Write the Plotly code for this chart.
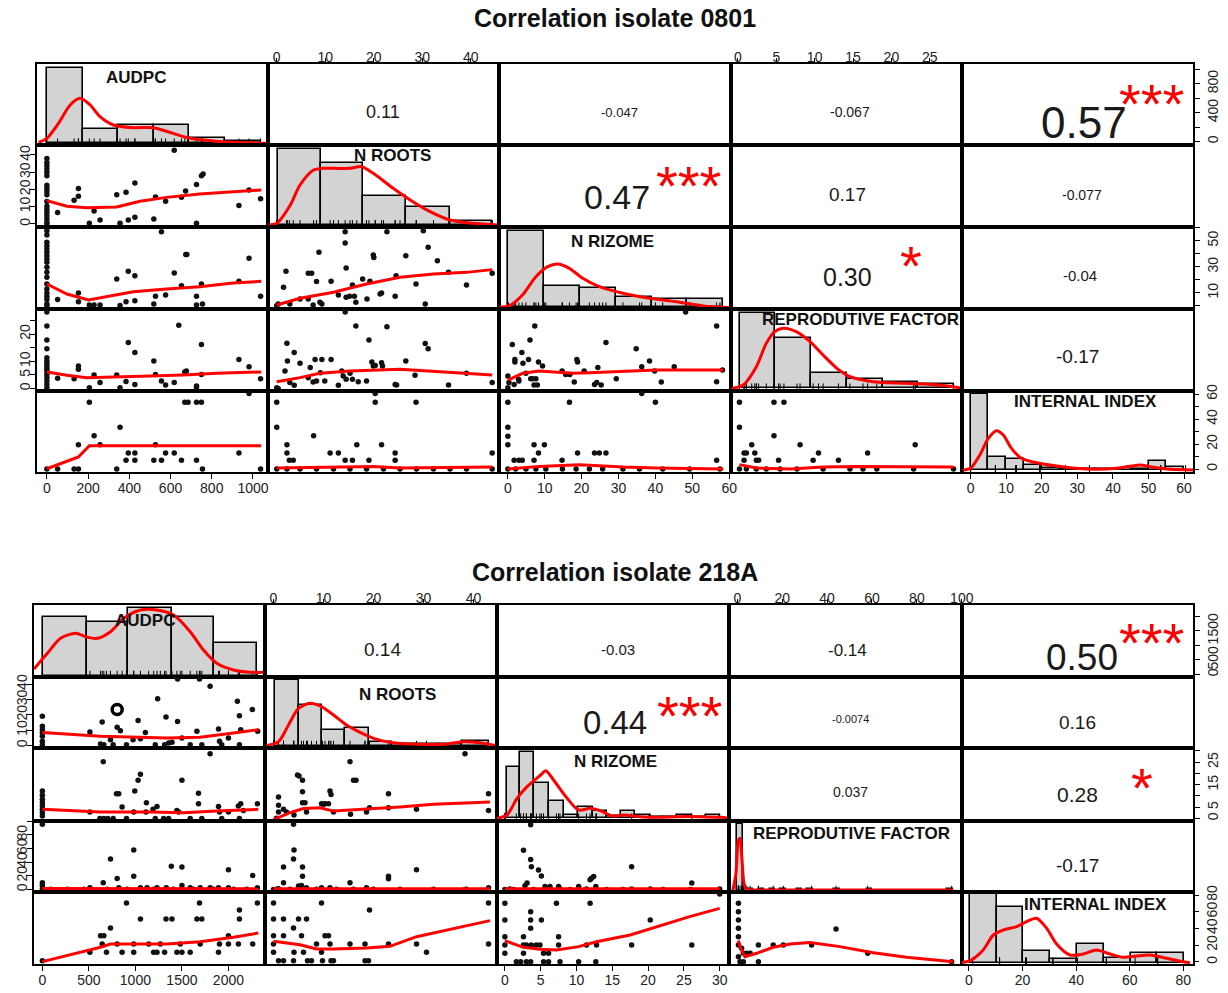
import plotly.graph_objects as go

W, H = 1228, 993
FONT = "Liberation Sans, Arial, sans-serif"

VARS = ["AUDPC", "N ROOTS", "N RIZOME", "REPRODUTIVE FACTOR", "INTERNAL INDEX"]
TITLE_A = "Correlation isolate 0801"
TITLE_B = "Correlation isolate 218A"

# ---------------- isolate 0801 (top) ----------------
A_RANGES = [(-48, 1073), (-1.8, 45.8), (-2.4, 60.5), (-0.9, 29.2), (-2.4, 62.5)]
A_TICKS = [[0, 200, 400, 600, 800, 1000], [0, 10, 20, 30, 40], [0, 10, 20, 30, 40, 50, 60],
           [0, 5, 10, 15, 20, 25], [0, 10, 20, 30, 40, 50, 60]]
A_YTEXT = [["0", "", "400", "", "800", ""], ["0", "10", "20", "30", "40"],
           ["", "10", "", "30", "", "50", ""], ["0", "5", "10", "", "20", ""],
           ["0", "", "20", "", "40", "", "60"]]

A_P21 = [(0,38),(0,35.6),(0,33.8),(0,31.9),(0,30),(0,28),(0,22.5),(0,20.6),(0,18.8),(0,16.9),(0,13),(0,10.3),
         (0,8.4),(0,6.6),(0,4.7),(0,2.8),(0,0.9),(0,0),(52,6.6),(132,13.7),(153,20.6),(153,16),(206,0.4),(229,7.5),
         (258,2.3),(339,16.9),(355,0.4),(384,18.4),(395,2.3),(427,23.8),(427,3.8),(519,2.8),(527,15.6),(576,13.1),
         (618,42.8),(653,15.4),(673,19.1),(726,22.9),(726,0.4),(750,28),(758,29),(932,10.7),(981,19.7),(1037,14.6)]
A_L21 = [(0,13.5),(97,10.3),(194,9.4),(339,9.8),(452,13.1),(581,15.4),(742,17.3),(903,18.8),(1040,19.7)]
A_P31 = [(0,57.7),(0,54.4),(0,48.8),(0,46.2),(0,43.6),(0,41.1),(0,38.5),(0,36),(0,33.4),(0,29.6),(0,25.7),(0,21.9),
         (0,16.8),(0,13),(0,9.9),(0,7.3),(0,4.8),(0,1.4),(0,0),(52,4.8),(153,9.9),(153,3.2),(206,0.7),(229,0.7),
         (258,0.7),(339,20.6),(355,0.2),(384,3.2),(395,26.5),(427,23.2),(427,4),(519,1.4),(527,7.3),(556,56.9),
         (576,8.3),(618,25.2),(653,15.5),(674,39.5),(679,39.5),(726,7.3),(726,0.7),(750,16.8),(755,1.4),(932,18.8),
         (981,36.5),(1037,7.3)]
A_L31 = [(0,16.8),(97,9.1),(202,4.5),(306,7.3),(419,10.9),(581,12.9),(742,14.7),(903,17.5),(1040,18.8)]
A_P41 = [(0,28.1),(0,23),(0,17.8),(0,14.6),(0,11.3),(0,10.1),(0,9.3),(0,8.3),(0,7.3),(0,6.4),(0,5.2),(0,4),(0,2.8),
         (0,1.5),(0,0.3),(52,3.8),(132,3.6),(153,8.3),(153,7.1),(206,0.3),(229,5),(258,2.2),(339,5),(355,0.3),
         (384,2.6),(395,16.9),(427,13.2),(427,1.5),(519,10.1),(527,5.2),(556,2.8),(576,1.3),(618,2.2),(640,23.2),
         (669,6.1),(677,6.4),(726,0.9),(726,0.3),(750,16.2),(750,5.2),(932,10.7),(981,8),(1037,3.6)]
A_L41 = [(0,6.1),(97,4.9),(194,4),(339,4.4),(500,4.6),(661,5),(823,5.6),(1040,6.1)]
A_P51 = [(0,0),(52,0),(132,0),(153,0),(153,19.5),(206,53.4),(229,26.7),(258,19.5),(339,0),(355,33.4),(384,7),
         (395,12.8),(427,12.8),(427,7),(519,7),(527,19.5),(556,7),(576,12.8),(618,12.8),(653,7),(669,53.4),
         (685,53.4),(726,7),(726,53.4),(750,53.4),(755,0),(932,12.8),(981,60.4),(1037,0)]
A_L51 = [(0,0.2),(153,9.6),(206,18.7),(1040,18.7)]
A_P32 = [(0,0),(0.3,1.4),(1.4,14.2),(1.9,26.5),(2.7,1.4),(4.8,5.3),(6.5,5.3),(6.5,25),(7.2,25),(7.5,0.7),(8.2,18.6),
         (8.7,41.1),(8.9,2.7),(9.3,1.4),(11.2,18.8),(12.7,8.3),(14.1,56.9),(14.1,48.2),(14.3,29),(14.3,6.6),(15,7.3),
         (15.6,16),(16,7.3),(16.3,2.7),(17.7,20.6),(18.6,5.3),(19.2,18.8),(19.9,39),(20,37.2),(21.3,9.1),(21.6,9.9),
         (22.7,56.9),(24.4,7.3),(24.6,23.2),(26.6,38.5),(28.7,16.8),(30.2,57.7),(30.6,1.4),(31.2,45),(33.1,34.7),
         (35.4,25.7),(39.1,16),(44.4,25)]
A_L32 = [(0,0.7),(4.8,5.8),(11.7,10.4),(18.5,16.8),(25.4,21.9),(32.3,24.5),(39.1,25.7),(44.4,27.8)]
A_P42 = [(0,0.3),(0.3,0),(1.7,6.4),(2.1,16.6),(2.2,10.1),(2.7,2.2),(3.6,13.2),(3.6,1.2),(4.8,9.3),(6.5,4),(6.9,7.7),
         (7.5,2.4),(7.9,10.7),(8.2,2.8),(9,5.8),(9.3,10.7),(9.9,2.8),(11.2,10.7),(12.7,1.2),(13.4,6.4),(13.7,4.6),
         (14.1,28.1),(14.3,3.4),(15.1,5.6),(15.6,3.4),(16.3,23),(16.8,2.5),(18.5,2.8),(19,17.8),(19.6,9.7),(19.9,8.3),
         (20.3,8.5),(21.6,9.5),(21.8,8.3),(22.7,22.7),(24.4,1.5),(24.7,1.3),(26.6,10.1),(28.5,4.9),(30.6,16.5),
         (31.2,14.6),(35.4,1.3),(39.1,5.6),(44.4,2.2)]
A_L42 = [(0,2.5),(4.8,4),(8.9,5.6),(15.1,6.4),(25.4,7.1),(32.3,6.4),(39.1,5.6),(44.4,5)]
A_P52 = [(0,53.4),(0,33.4),(0,0),(2.1,19.5),(2.1,12.8),(2.6,7),(3.4,7),(7.6,26.7),(11,12.8),(12.7,12.8),(14.1,7),
         (15.6,7),(16.5,19.5),(19,7),(20.3,60.4),(20.3,53.4),(21.6,19.5),(24.4,12.8),(24.4,7),(28.7,53.4),(44.4,12.8),
         (2.1,0),(4.8,0),(8.2,0),(11.7,0),(15.1,0),(18.5,0),(22,0),(25.4,0),(28.8,0),(32.3,0),(35.7,0),(39.1,0),(44.4,0)]
A_L52 = [(0,0.8),(11.7,1.6),(20,2.1),(25.4,0.8),(44.4,1.6)]
A_P43 = [(0,0.3),(0,4.6),(0.3,2.2),(1.2,16.2),(1.7,1.5),(1.9,10.7),(1.9,9.7),(2.9,3.4),(3,2.8),(3.8,13.2),(4.1,9.3),
         (4.9,5.6),(5.6,10.7),(6,17.8),(6.2,3.6),(6.7,3.6),(7.1,1.3),(7.3,23),(7.6,3.6),(8,1.3),(8.3,9.7),(9.4,8.3),
         (14.7,6.4),(15.7,5.2),(16.8,5.2),(18,2.4),(18.7,10.7),(18.9,9.7),(20.7,6.4),(23.5,1.5),(24.1,2.2),(24.4,7.7),
         (25.3,1.3),(26.6,16.9),(29.4,3.6),(34.8,14.6),(36.3,8),(38.4,10.1),(39.8,6.4),(41.6,2.4),(45.1,8),(48.2,28.1),
         (56.6,23),(56.6,2.5),(58.2,6.8)]
A_L43 = [(0,3.1),(4,5.6),(8.5,6.4),(17.6,5.6),(22.1,5.8),(31.2,6.4),(40.3,6.8),(58.4,6.8)]
A_P53 = [(0,53.4),(0,33.4),(0,26.2),(0,19.5),(1.7,7),(3,7),(3.9,7),(7.1,19.5),(7.1,7),(8.3,12.8),(9.9,19.5),(14.7,7),
         (16.7,53.4),(18.9,12.8),(23.5,12.8),(24.8,12.8),(26.6,12.8),(36.3,60.4),(40,53.4),(56.6,7),
         (0,0),(2.1,0),(4.9,0),(7.6,0),(10.3,0),(14.8,0),(18.5,0),(22.1,0),(25.7,0),(31.2,0),(35.7,0),(42,0),(49.3,0),(57.5,0)]
A_L53 = [(0,0),(8.5,2.1),(19.4,3.5),(31.2,1.6),(40.3,0.8),(58.4,0)]
A_P54 = [(0.2,53.4),(0.2,33.4),(0.8,12.8),(1.1,12.8),(0.8,7),(1.8,19.5),(2.2,12.8),(2.4,7),(2.7,7),(4.7,53.4),
         (4.7,26.7),(5.3,7),(6,53.4),(8.1,19.5),(9.8,7),(10.5,12.8),(13.1,7),(16.9,12.8),(23.1,19.5),
         (0.2,0),(1.1,0),(2.4,0),(3.7,0),(5.5,0),(7.7,0),(11.1,0),(14.6,0),(16.3,0),(18.1,0),(22.9,0),(28.1,0)]
A_L54 = [(0.2,3.5),(2.4,0.8),(6.8,0),(11.1,1.6),(15.5,2.1),(19.8,2.1),(28.1,1.6)]

# histograms (left, right, height) and density curves (x, height)
A_H1 = [(0,174,227),(174,347,43),(347,518,55),(518,692,55),(692,865,15),(865,1037,7)]
A_D1 = [(-40,3),(0,15),(56,60),(113,115),(161,135),(210,115),(258,80),(323,55),(419,47),(516,47),(613,30),
        (694,15),(806,7),(903,3),(1065,0)]
A_H2 = [(0.3,9.1,227),(9.1,17.7,185),(17.7,26.6,87),(26.6,35.6,53),(35.6,44.4,13)]
A_D2 = [(-1.7,0),(0,5),(2.8,60),(4.8,120),(7.6,165),(9.6,170),(11.7,170),(15.1,170),(17.5,175),(19.9,155),(24,110),
        (27.5,75),(31.6,40),(35.7,15),(40.5,5),(46,0)]
A_H3 = [(0,9.8,229),(9.8,19.6,65),(19.6,29.4,59),(29.4,39.1,32),(39.1,48.7,25),(48.7,58.2,25)]
A_D3 = [(-2.4,0),(0.3,4),(3.95,37),(7.6,92),(10.8,122),(13.5,130),(16.7,117),(20.3,87),(24.8,62),(31.2,42),
        (38.4,27),(45.7,17),(53,4),(58.4,0),(61.1,0)]
A_H4 = [(0.27,4.83,225),(4.83,9.5,150),(9.5,14.2,47),(14.2,18.9,28),(18.9,23.5,18),(23.5,28.1,12)]
A_D4 = [(-0.8,0),(0.7,10),(2.4,65),(3.7,135),(4.8,170),(5.9,180),(7.6,170),(9.4,140),(11.1,100),(12.9,60),
        (14.6,35),(17.6,20),(22,15),(26.3,10),(29.2,0)]
A_H5 = [(0,5,228),(5,10,40),(10,15,33),(15,20,15),(20,25,6),(25,30,3),(30,35,3),(35,40,2),(40,45,0),(45,50,2),
        (50,55,28),(55,60,8)]
A_D5 = [(-2.1,0),(0,5),(2.6,45),(5,95),(7.3,118),(9.2,105),(11.5,65),(14.3,35),(18.6,22),(24.2,12),(29.8,5),
        (35.4,2),(41.1,5),(45.3,12),(47.6,15),(51.4,8),(56.1,2),(63.1,0)]

A_CORR_CELLS = [(0,1),(0,2),(0,3),(0,4),(1,2),(1,3),(1,4),(2,3),(2,4),(3,4)]
A_CORR_TEXT = ["0.11", "-0.047", "-0.067", "0.57", "0.47", "0.17", "-0.077", "0.30", "-0.04", "-0.17"]
A_STAR_CELLS = [(0,4),(1,2),(2,3)]
A_STAR_TEXT = ["***", "***", "*"]

# ---------------- isolate 218A (bottom) ----------------
B_RANGES = [(-90, 2393), (-1.7, 44.7), (-1.1, 31.3), (-3.7, 100.1), (-2.6, 83.6)]
B_TICKS = [[0, 500, 1000, 1500, 2000], [0, 10, 20, 30, 40], [0, 5, 10, 15, 20, 25, 30],
           [0, 20, 40, 60, 80, 100], [0, 20, 40, 60, 80]]
B_YTEXT = [["0", "500", "", "1500", ""], ["0", "10", "20", "30", "40"],
           ["0", "5", "", "15", "", "25", ""], ["0", "20", "40", "60", "80", ""],
           ["0", "20", "40", "60", "80"]]

B_P21 = [(0,19),(0,12.5),(0,10.3),(0,8.1),(0,5.9),(0,2.7),(0,0.5),(511,8.8),(625,0.9),(643,15.3),(661,0.5),(732,3.7),
         (761,0.5),(804,11.8),(839,9.6),(904,0.5),(975,3.7),(1029,16.2),(1054,4.4),(1107,8.5),(1214,0.5),(1239,30.5),
         (1314,0.5),(1329,18.6),(1357,1.6),(1393,2),(1453,43.4),(1453,15.7),(1500,4.8),(1589,0.5),(1661,9.2),
         (1689,43.4),(1714,0.5),(1803,38.6),(1893,10.7),(1904,2.7),(1928,0.5),(2000,4.8),(2096,28.8),(2118,19.4),
         (2118,0.5),(2132,10.3),(2257,23.4),(2314,9.2)]
B_P21_RING = [(804,23.4)]
B_L21 = [(0,8.5),(625,5.9),(1339,4.8),(1696,5.3),(2054,8.1),(2321,10.3)]
B_P31 = [(0,12.2),(0,10.3),(0,8.5),(0,7),(0,5.6),(0,4.1),(0,2.6),(0,1.1),(511,2.9),(618,0),(654,25.2),(661,0),(704,0),
         (761,0),(796,11),(821,11),(857,5.1),(904,0),(982,2.9),(993,12.2),(1029,17),(1054,19.6),(1114,2.9),(1118,7),
         (1189,4.1),(1214,0),(1232,5.3),(1303,0),(1357,0),(1446,3.6),(1464,2.9),(1500,17),(1589,0),(1678,11.2),
         (1678,6.6),(1714,0),(1803,28.8),(1893,5.3),(1904,2.9),(1928,0),(2000,2.9),(2107,5.6),(2118,0),(2132,6.6),
         (2161,3.6),(2311,6.6)]
B_L31 = [(0,4.1),(625,2.9),(1161,2.9),(1518,2.6),(1875,3.3),(2321,4.1)]
B_P41 = [(0,95.3),(0,9.8),(0,5.9),(0,1.1),(511,2.5),(654,9.8),(732,44.4),(804,16),(821,2.5),(982,19.4),(982,57.8),
         (1054,2.5),(1125,2.5),(1232,2.5),(1332,2.5),(1386,33.8),(1500,32.8),(1500,5.9),(1589,2.5),(1696,2.5),
         (1803,2.5),(1893,2.5),(2000,29),(2000,2.5),(2261,20.3),(2311,2.5),(89,0.5),(268,0.5),(446,0.5),(696,0.5),
         (911,0.5),(1196,0.5),(1411,0.5),(1625,0.5),(1839,0.5),(2054,0.5),(2196,0.5)]
B_L41 = [(0,1.5),(1000,0.9),(2321,1.1)]
B_P51 = [(0,1.4),(511,11.4),(625,31.3),(661,31.3),(643,21.3),(689,11.4),(732,40.5),(804,21.3),(857,11.4),(904,70.4),
         (982,11.4),(982,21.3),(1054,51.3),(1143,21.3),(1196,11.4),(1232,11.4),(1268,21.3),(1314,11.4),(1329,51.3),
         (1393,51.3),(1446,11.4),(1482,21.3),(1500,11.4),(1589,11.4),(1661,51.3),(1689,70.4),(1696,21.3),(1714,51.3),
         (1893,11.4),(1904,21.3),(2000,31.3),(2000,21.3),(2107,21.3),(2118,62),(2118,51.3),(2261,21.3),(2311,70.4)]
B_L51 = [(0,0.2),(625,17.4),(732,21.3),(1339,21.3),(1696,24.1),(2054,29.3),(2321,34.5)]
B_P32 = [(0.6,0.1),(1,9.6),(1,5.9),(1,2.9),(2,4.1),(2.6,2.9),(4.1,1.6),(4.8,19.3),(5.1,18.9),(5.8,17),(5.8,11.9),
         (5.8,7),(6.3,7),(6.6,2.9),(9.6,6.6),(10,6.3),(10.3,6.6),(11,6.6),(11.3,12.2),(11.5,10.7),(12,2.9),(15.3,25.2),
         (15.4,1.9),(16,17),(16.5,17),(18.6,2.9),(19.2,4.8),(23,11),(23,4.8),(28.6,4.1),(38.3,28.8),(43,11),(43,3.6)]
B_L32 = [(0,-0.5),(3.3,2.6),(6,4.4),(9.3,4.8),(12,3.3),(18.6,4.1),(25.3,5.1),(32,6.3),(43.3,7.3)]
B_P42 = [(0,0.1),(1,1.1),(2,32.8),(2,9.8),(4,95.3),(4.1,57.8),(4,44.4),(5.8,32.8),(5.8,19.4),(5,4.9),(5.6,5.9),
         (6.6,2.5),(9.6,2.5),(11.3,2.5),(15.3,9.8),(18.6,2.5),(23,19.4),(23,15.6),(28.6,29),(38.3,0.1),(43,2.5),
         (0.6,0.5),(3.3,0.5),(8.6,0.5),(12.6,0.5),(16,0.5),(20,0.5),(25.3,0.5),(32,0.5),(38.6,0.5)]
B_L42 = [(0,1.1),(43.3,1.1)]
B_P52 = [(0,70.4),(0,51.3),(0,31.3),(0,21.3),(0,11.4),(1,1.4),(2,51.3),(2,31.3),(2,1.4),(4,40.5),(4.1,11.4),(5,51.3),
         (5.6,31.3),(6,11.4),(6.6,51.3),(6.8,1.4),(7.6,1.4),(8.6,21.3),(9.6,70.4),(9.6,11.4),(9.8,1.4),(10.3,31.3),
         (11,31.3),(11.3,21.3),(11.5,1.4),(12,1.4),(15.3,21.3),(18.3,1.4),(19,1.4),(18.3,21.3),(19.2,62),(23,21.3),
         (28.6,21.3),(30.6,11.4),(43,70.4),(43,21.3),(4,1.4)]
B_L52 = [(0,24.5),(5.3,20.5),(8.6,15.4),(12,15.4),(18.6,16.6),(23.3,18.6),(28.6,30.1),(43.3,49.3)]
B_P43 = [(0,0),(0.7,0.6),(2.6,57.3),(2.8,5.4),(3.1,9.3),(3.6,43.9),(3.6,94.8),(3.7,33.3),(4.7,28.5),(5.1,19.8),
         (5.6,4.5),(6.3,4.5),(7.5,4.5),(7.7,0.6),(10.3,4.5),(11.9,14.1),(12.1,16.5),(12.4,18.9),(12.7,4.5),(17.7,33.3),
         (17.7,0.6),(20.3,0.6),(26.1,9.3),(30,0.6),(1.2,0),(4,0),(6.1,0.6),(9.1,0),(11.4,0.6),(14.2,0),(16.5,0),
         (22.1,0),(25.9,0)]
B_L43 = [(0,1.2),(30,1.2)]
B_P53 = [(0,70),(0,50.1),(0,30.1),(0,20.1),(0,10.2),(2.6,30.1),(2.6,20.1),(2.6,10.2),(3,20.1),(3.6,60.1),(3.6,50.1),
         (3.6,40.1),(3.7,20.1),(4.4,20.1),(4.9,20.1),(5.1,50.1),(5.4,10.2),(6.1,10.2),(7.2,70),(7.5,30.1),(7.5,20.1),
         (11.9,70),(11.4,20.1),(12.8,20.1),(17.7,20.1),(20.3,50.1),(26.1,20.1),(30,81.2),(1.6,0.2),(2.2,0.2),(3,0.2),
         (3.6,0.2),(5.4,0.2),(6.1,0.2),(7.7,0.2),(10.3,0.2),(12.7,0.2)]
B_L53 = [(0,25.3),(2.6,17.4),(4.9,15),(7.2,14.2),(10.3,18.2),(12.8,24.1),(17.5,32.1),(21.2,42.1),(25.8,54.1),(30,64)]
B_P54 = [(0.5,70),(0.5,60.1),(0.5,50.1),(0.5,40.1),(0.5,30.1),(0.5,20.1),(0.5,6.2),(1.9,16.2),(2.7,10.2),(4.2,10.2),
         (5.7,10.2),(9.4,20.1),(9.4,0.2),(16,20.1),(20.5,20.1),(33.1,20.1),(44,39.3),(58.1,10.2),(95.5,0.2),(1.2,0.2),
         (2.7,0.2)]
B_L54 = [(0.5,25.3),(1.5,16.2),(3.4,6.2),(8.6,10.2),(16,17.4),(23.5,21.3),(32.4,23),(45.7,18.2),(60.6,10.9),
         (75.4,5.4),(96.2,0.2)]

B_H1 = [(11,475,177),(475,921,160),(921,1393,204),(1393,1850,177),(1850,2311,97)]
B_D1 = [(-89,20),(54,67),(196,112),(357,127),(464,117),(589,112),(732,132),(875,172),(1054,197),(1232,197),
        (1411,182),(1589,132),(1732,77),(1875,37),(2054,17),(2232,10),(2411,10)]
B_H2 = [(0.3,5,197),(5,9.6,122),(9.6,14.3,47),(14.3,19,54),(19,23.6,12),(23.6,28.3,5),(28.3,33,5),(33,37.6,5),
        (37.6,43.1,15)]
B_D2 = [(-1.4,0),(1,12),(3,62),(5,112),(7.3,127),(9.6,117),(12,92),(14.6,62),(17.3,40),(20,22),(24,9),(29.3,4),
        (34,4),(38,12),(41.3,9),(44.6,0)]
B_H3 = [(0.25,2.1,155),(2.1,4.07,198),(4.07,6.2,107),(6.2,8.26,53),(8.26,10.26,10),(10.26,12.26,33),(12.26,14.2,23),
        (14.2,16.2,7),(16.2,18.2,21),(18.2,20.2,11),(20.2,22.1,3),(22.1,24.1,3),(24.1,26.1,11),(26.1,28.1,3),
        (28.1,30.05,11)]
B_D3 = [(-1.1,0),(0.3,10),(1.7,60),(3.1,95),(5,130),(5.7,143),(6.8,115),(8.7,60),(10.3,25),(11.9,30),(13.3,23),
        (15,7),(16.6,10),(18.9,5),(21.3,3),(24.1,5),(26.9,5),(30.1,3),(31.5,0)]
B_H4 = [(0,2.4,200),(2.4,4.8,6),(4.8,7.2,5),(9.6,12,5),(14.4,16.8,5),(19.2,21.6,5),(26.4,28.8,5),(31.2,33.6,5),
        (43.2,45.6,5),(57.6,60,5),(93.6,96,5)]
B_D4 = [(-2,0),(-0.6,52),(0.5,152),(1.2,157),(2,102),(3,22),(4.2,4),(8.6,2),(23.5,2),(38.3,2),(96.2,2)]
B_H5 = [(0.4,10.3,205),(10.3,20.3,166),(20.3,30.2,36),(30.2,40.2,11),(40.2,50.4,55),(50.4,60.3,13),(60.3,70.3,30),
        (70.3,80.3,30)]
B_D5 = [(-2.7,0),(0.4,6),(5.3,38),(9.1,83),(12.8,98),(17.8,108),(21.5,123),(25.2,133),(29,103),(32.7,56),(37.7,23),
        (42.7,26),(47.6,38),(52.6,26),(57.6,16),(62.6,20),(67.5,23),(73.8,13),(80,3),(82.5,0)]

B_CORR_CELLS = [(0,1),(0,2),(0,3),(0,4),(1,2),(1,3),(1,4),(2,3),(2,4),(3,4)]
B_CORR_TEXT = ["0.14", "-0.03", "-0.14", "0.50", "0.44", "-0.0074", "0.16", "0.037", "0.28", "-0.17"]
B_STAR_CELLS = [(0,4),(1,2),(2,4)]
B_STAR_TEXT = ["***", "***", "*"]

# ---------------- layout geometry / styling (pixels, cell fractions) ----------------
A_COLS = [37, 268, 499, 731, 962, 1193]
A_ROWS = [64, 145, 227, 309, 391, 472]
B_COLS = [34, 265, 497, 729, 962, 1193]
B_ROWS = [605, 677, 748, 821, 892, 964]
A_HRANGE = [(-5, 238), (-6, 240), (-5, 241), (-8, 238), (-6, 237)]
B_HRANGE = [(-4, 212), (-7, 206), (-8, 211), (-4, 209), (-4, 212)]
# (fx, fy, font size) for correlation numbers
A_CORR_STYLE = [(0.496,0.58,18),(0.52,0.59,13),(0.515,0.59,14),(0.53,0.70,44),(0.51,0.62,34),
                (0.505,0.60,19),(0.52,0.60,14),(0.506,0.60,25),(0.51,0.585,15),(0.50,0.57,19)]
B_CORR_STYLE = [(0.506,0.61,19),(0.52,0.61,15),(0.51,0.62,17),(0.52,0.71,37),(0.51,0.62,33),
                (0.52,0.58,11),(0.50,0.63,19),(0.52,0.60,14),(0.50,0.62,21),(0.50,0.61,19)]
A_STAR_STYLE = [(0.82,0.41,56),(0.815,0.415,56),(0.78,0.40,56)]
B_STAR_STYLE = [(0.82,0.44,56),(0.83,0.46,56),(0.78,0.46,56)]
A_LABEL_POS = [(0.43,0.17),(0.54,0.13),(0.49,0.18),(0.56,0.13),(0.535,0.13)]
B_LABEL_POS = [(0.48,0.21),(0.57,0.24),(0.51,0.185),(0.525,0.175),(0.58,0.18)]
A_TITLE_Y = 18
B_TITLE_Y = 572

A = dict(cols=A_COLS, rows=A_ROWS, ranges=A_RANGES, ticks=A_TICKS, ytext=A_YTEXT, hrange=A_HRANGE,
         pts={(1,0):A_P21,(2,0):A_P31,(3,0):A_P41,(4,0):A_P51,(2,1):A_P32,(3,1):A_P42,(4,1):A_P52,
              (3,2):A_P43,(4,2):A_P53,(4,3):A_P54},
         lo={(1,0):A_L21,(2,0):A_L31,(3,0):A_L41,(4,0):A_L51,(2,1):A_L32,(3,1):A_L42,(4,1):A_L52,
             (3,2):A_L43,(4,2):A_L53,(4,3):A_L54},
         hist=[A_H1,A_H2,A_H3,A_H4,A_H5], dens=[A_D1,A_D2,A_D3,A_D4,A_D5],
         corr=list(zip(A_CORR_CELLS, A_CORR_TEXT, A_CORR_STYLE)),
         stars=list(zip(A_STAR_CELLS, A_STAR_TEXT, A_STAR_STYLE)),
         labels=A_LABEL_POS, title=TITLE_A, title_y=A_TITLE_Y, ring=None)
B = dict(cols=B_COLS, rows=B_ROWS, ranges=B_RANGES, ticks=B_TICKS, ytext=B_YTEXT, hrange=B_HRANGE,
         pts={(1,0):B_P21,(2,0):B_P31,(3,0):B_P41,(4,0):B_P51,(2,1):B_P32,(3,1):B_P42,(4,1):B_P52,
              (3,2):B_P43,(4,2):B_P53,(4,3):B_P54},
         lo={(1,0):B_L21,(2,0):B_L31,(3,0):B_L41,(4,0):B_L51,(2,1):B_L32,(3,1):B_L42,(4,1):B_L52,
             (3,2):B_L43,(4,2):B_L53,(4,3):B_L54},
         hist=[B_H1,B_H2,B_H3,B_H4,B_H5], dens=[B_D1,B_D2,B_D3,B_D4,B_D5],
         corr=list(zip(B_CORR_CELLS, B_CORR_TEXT, B_CORR_STYLE)),
         stars=list(zip(B_STAR_CELLS, B_STAR_TEXT, B_STAR_STYLE)),
         labels=B_LABEL_POS, title=TITLE_B, title_y=B_TITLE_Y, ring=((1,0), B_P21_RING))

RED = "#ff0000"
BASE_AX = dict(showgrid=False, zeroline=False, showline=True, linecolor="black", linewidth=1.7,
               mirror=True, ticks="", showticklabels=False, fixedrange=True, automargin=False)
TICK_STYLE = dict(ticks="outside", ticklen=5, tickwidth=1.3, tickcolor="black", showticklabels=True,
                  tickfont=dict(size=14, color="#222", family=FONT))

fig = go.Figure()
layout = {}
anns = []
state = {"k": 0, "ov": 100}


def xp(px):
    return px / W


def yp(py):
    return 1 - py / H


def rug_values(M, v):
    # observation values of variable v, taken from the scatter panels of that variable
    if v < 4:
        return [a for a, b in M["pts"][(4, v)]]
    return [b for a, b in M["pts"][(4, 0)]]


def build(M):
    cols, rows, R = M["cols"], M["rows"], M["ranges"]
    for i in range(5):
        for j in range(5):
            state["k"] += 1
            k = state["k"]
            xn = "x" if k == 1 else f"x{k}"
            yn = "y" if k == 1 else f"y{k}"
            xa = dict(BASE_AX, domain=[xp(cols[j]), xp(cols[j + 1])], range=list(R[j]), anchor=yn)
            yrange = list(M["hrange"][i]) if i == j else list(R[i])
            ya = dict(BASE_AX, domain=[yp(rows[i + 1]), yp(rows[i])], range=yrange, anchor=xn)
            tv = M["ticks"][j]
            if i == 4 and j % 2 == 0:
                xa.update(TICK_STYLE, side="bottom", tickvals=tv, ticktext=[str(v) for v in tv],
                          ticklabelstandoff=-3)
            if i == 0 and j % 2 == 1:
                xa.update(TICK_STYLE, side="top", tickvals=tv, ticktext=[str(v) for v in tv],
                          ticklen=4, ticklabelstandoff=-9)
            ytv = M["ticks"][i]
            if j == 0 and i % 2 == 1:
                ya.update(TICK_STYLE, side="left", tickvals=ytv, ticktext=M["ytext"][i], tickangle=-90,
                          ticklabelstandoff=-5)
            if j == 4 and i % 2 == 0 and i != 4:
                ya.update(TICK_STYLE, side="right", tickvals=ytv, ticktext=M["ytext"][i], tickangle=-90,
                          ticklabelstandoff=1)
            layout["xaxis" if k == 1 else f"xaxis{k}"] = xa
            layout["yaxis" if k == 1 else f"yaxis{k}"] = ya
            # empty trace so that every panel (also text-only panels) gets its frame drawn
            fig.add_trace(go.Scatter(x=[None], y=[None], xaxis=xn, yaxis=yn, mode="markers",
                                     showlegend=False, hoverinfo="skip"))
            if i == 4 and j == 4:
                state["ov"] += 1
                ov = state["ov"]
                layout[f"yaxis{ov}"] = dict(TICK_STYLE, overlaying=yn, anchor=xn, side="right",
                                            range=list(R[4]), showgrid=False, zeroline=False,
                                            showline=False, fixedrange=True, automargin=False,
                                            tickvals=ytv, ticktext=M["ytext"][4], tickangle=-90,
                                            ticklabelstandoff=1)
                fig.add_trace(go.Scatter(x=[None], y=[None], xaxis=xn, yaxis=f"y{ov}", mode="markers",
                                         showlegend=False, hoverinfo="skip"))
            if i > j:
                p = M["pts"][(i, j)]
                fig.add_trace(go.Scatter(x=[a for a, b in p], y=[b for a, b in p], mode="markers",
                                         marker=dict(size=5.5, color="#111"), xaxis=xn, yaxis=yn,
                                         showlegend=False, hoverinfo="skip"))
                if M["ring"] is not None and M["ring"][0] == (i, j):
                    rp = M["ring"][1]
                    fig.add_trace(go.Scatter(x=[a for a, b in rp], y=[b for a, b in rp], mode="markers",
                                             marker=dict(size=10, color="white", symbol="circle",
                                                         line=dict(color="black", width=3.5)),
                                             xaxis=xn, yaxis=yn, showlegend=False, hoverinfo="skip"))
                lo = M["lo"][(i, j)]
                fig.add_trace(go.Scatter(x=[a for a, b in lo], y=[b for a, b in lo], mode="lines",
                                         line=dict(color=RED, width=3), xaxis=xn, yaxis=yn,
                                         showlegend=False, hoverinfo="skip"))
            elif i == j:
                hs = M["hist"][i]
                fig.add_trace(go.Bar(x=[(a + b) / 2 for a, b, h in hs], y=[h for a, b, h in hs],
                                     width=[b - a for a, b, h in hs],
                                     marker=dict(color="#d3d3d3", line=dict(color="black", width=1.6)),
                                     xaxis=xn, yaxis=yn, showlegend=False, hoverinfo="skip"))
                rv = rug_values(M, i)
                fig.add_trace(go.Scatter(x=rv, y=[0] * len(rv), mode="markers",
                                         marker=dict(symbol="line-ns", size=7,
                                                     line=dict(color="black", width=1)),
                                         xaxis=xn, yaxis=yn, showlegend=False, hoverinfo="skip"))
                d = M["dens"][i]
                fig.add_trace(go.Scatter(x=[a for a, b in d], y=[b for a, b in d], mode="lines",
                                         line=dict(color=RED, width=3, shape="spline", smoothing=0.8),
                                         xaxis=xn, yaxis=yn, showlegend=False, hoverinfo="skip"))
                cx0, cx1, cy0, cy1 = cols[j], cols[j + 1], rows[i], rows[i + 1]
                fx, fy = M["labels"][i]
                anns.append(dict(x=xp(cx0 + fx * (cx1 - cx0)), y=yp(cy0 + fy * (cy1 - cy0)),
                                 xref="paper", yref="paper", text=f"<b>{VARS[i]}</b>", showarrow=False,
                                 font=dict(size=17, color="#111", family=FONT), xanchor="center",
                                 yanchor="middle"))
    for (i, j), txt, (fx, fy, fs) in M["corr"]:
        cx0, cx1, cy0, cy1 = cols[j], cols[j + 1], rows[i], rows[i + 1]
        anns.append(dict(x=xp(cx0 + fx * (cx1 - cx0)), y=yp(cy0 + fy * (cy1 - cy0) + 0.04 * fs),
                         xref="paper", yref="paper", text=txt, showarrow=False,
                         font=dict(size=fs, color="#1a1a1a", family=FONT), xanchor="center", yanchor="middle"))
    for (i, j), txt, (fx, fy, fs) in M["stars"]:
        cx0, cx1, cy0, cy1 = cols[j], cols[j + 1], rows[i], rows[i + 1]
        anns.append(dict(x=xp(cx0 + fx * (cx1 - cx0)), y=yp(cy0 + fy * (cy1 - cy0) + 0.11 * fs),
                         xref="paper", yref="paper", text=txt, showarrow=False,
                         font=dict(size=fs, color=RED, family=FONT), xanchor="center", yanchor="middle"))
    anns.append(dict(x=xp(615), y=yp(M["title_y"]), xref="paper", yref="paper", text=f"<b>{M['title']}</b>",
                     showarrow=False, font=dict(size=25, color="#111", family=FONT),
                     xanchor="center", yanchor="middle"))


build(A)
build(B)

fig.update_layout(template="none", width=W, height=H, margin=dict(l=0, r=0, t=0, b=0, pad=0, autoexpand=False),
                  paper_bgcolor="white", plot_bgcolor="white", showlegend=False,
                  font=dict(family=FONT, color="#222"), bargap=0, annotations=anns, **layout)

# pin the figure to the top-left corner of the page (no default body margin)
PIN_JS = ("document.body.style.margin='0';document.body.style.padding='0';"
          "var gd=document.getElementById('{plot_id}');gd.style.position='absolute';"
          "gd.style.left='0px';gd.style.top='0px';")

fig.write_html("out.html", post_script=PIN_JS, config={"displayModeBar": False, "responsive": False})
